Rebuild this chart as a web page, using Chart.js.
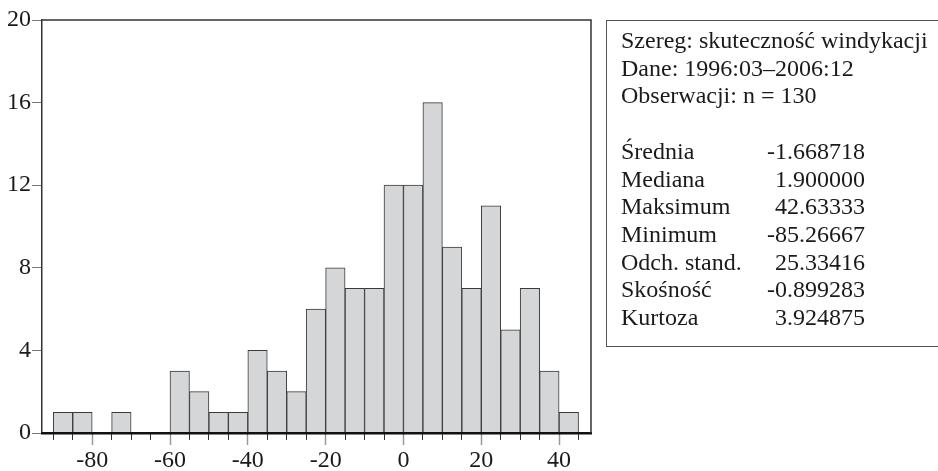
<!DOCTYPE html>
<html>
<head>
<meta charset="utf-8">
<script src="https://cdn.jsdelivr.net/npm/chart.js@4"></script>
<style>
  body { margin: 0; background: #fff; }
  #wrap { position: relative; width: 938px; height: 471px; }
  #stats {
    position: absolute; left: 606px; top: 20px; width: 340px; height: 327px;
    border: 1.5px solid #555; border-right: none; box-sizing: border-box;
    font-family: 'Liberation Serif', serif; font-size: 24px; line-height: 27.7px; color: #1a1a1a;
  }
  .row { position: absolute; left: 14px; white-space: nowrap; }
</style>
</head>
<body>
<div id="wrap">
  <canvas id="myChart"></canvas>
  <div id="stats"></div>
</div>
<script>
// histogram bins (lower edge, width 5) and counts
const binStarts = [-90, -85, -80, -75, -70, -65, -60, -55, -50, -45, -40, -35, -30, -25,
                   -20, -15, -10, -5, 0, 5, 10, 15, 20, 25, 30, 35, 40];
const counts    = [1, 1, 0, 1, 0, 0, 3, 2, 1, 1, 4, 3, 2, 6,
                   8, 7, 7, 12, 12, 16, 9, 7, 11, 5, 7, 3, 1];
const binWidth = 5;
const yTicks = [0, 4, 8, 12, 16, 20];

const headerLines = ['Szereg: skuteczność windykacji', 'Dane: 1996:03–2006:12', 'Obserwacji: n = 130'];
const statLabels = ['Średnia', 'Mediana', 'Maksimum', 'Minimum', 'Odch. stand.', 'Skośność', 'Kurtoza'];
const statValues = ['-1.668718', '1.900000', '42.63333', '-85.26667', '25.33416', '-0.899283', '3.924875'];

// stats box
const box = document.getElementById('stats');
const firstTop = 6;
const lh = 27.7;
function addLine(i, text) {
  const d = document.createElement('div');
  d.className = 'row';
  d.style.top = (firstTop + i * lh) + 'px';
  d.textContent = text;
  box.appendChild(d);
  return d;
}
headerLines.forEach((t, i) => addLine(i, t));
statLabels.forEach((t, i) => {
  addLine(i + 4, t);
  const v = addLine(i + 4, statValues[i]);
  v.style.width = '244px';
  v.style.textAlign = 'right';
});

const points = binStarts.map((s, i) => ({ x: s + binWidth / 2, y: counts[i] }));

const frame = {
  id: 'frame',
  afterDraw(chart) {
    const a = chart.chartArea;
    const c = chart.ctx;
    c.save();
    c.strokeStyle = '#333';
    c.lineWidth = 1.5;
    c.beginPath();
    c.moveTo(a.left, a.top);
    c.lineTo(a.right, a.top);
    c.lineTo(a.right, a.bottom);
    c.stroke();
    c.restore();
  }
};

Chart.defaults.font.family = "'Liberation Serif', serif";
Chart.defaults.font.size = 24;
Chart.defaults.color = '#1a1a1a';

const ctx = document.getElementById('myChart').getContext('2d');
const myChart = new Chart(ctx, {
  type: 'bar',
  data: {
    datasets: [{
      data: points,
      backgroundColor: '#d5d6d8',
      borderColor: '#3a3a3a',
      borderWidth: 1,
      barPercentage: 1,
      categoryPercentage: 1,
      xAxisID: 'x'
    }]
  },
  options: {
    responsive: true,
    maintainAspectRatio: false,
    animation: false,
    layout: { padding: { top: 20, right: 347, left: 0, bottom: 0 } },
    plugins: { legend: { display: false }, tooltip: { enabled: false } },
    scales: {
      xMinor: {
        type: 'linear', position: 'bottom', weight: 0,
        min: -92.9, max: 48.2, offset: false,
        afterFit: s => { s.height = 0; },
        ticks: { display: false, stepSize: 5, includeBounds: false },
        grid: { drawOnChartArea: false, offset: false, tickLength: 7, tickColor: '#333', tickWidth: 1 },
        border: { display: false }
      },
      x: {
        type: 'linear', position: 'bottom', weight: 1,
        min: -92.9, max: 48.2, offset: false,
        afterFit: s => { s.height = 38; },
        ticks: { stepSize: 20, includeBounds: false, padding: 1, maxRotation: 0 },
        grid: { drawOnChartArea: false, offset: false, tickLength: 12, tickColor: '#999', tickWidth: 1.5 },
        border: { color: '#111', width: 2.5, z: 1 }
      },
      y: {
        min: 0, max: 20,
        afterFit: s => { s.width = 42; },
        afterBuildTicks: s => { s.ticks = yTicks.map(v => ({ value: v })); },
        ticks: { padding: 1 },
        grid: { drawOnChartArea: false, tickLength: 10, tickColor: '#777' },
        border: { color: '#333', width: 1.5 }
      }
    }
  },
  plugins: [frame]
});
</script>
</body>
</html>
